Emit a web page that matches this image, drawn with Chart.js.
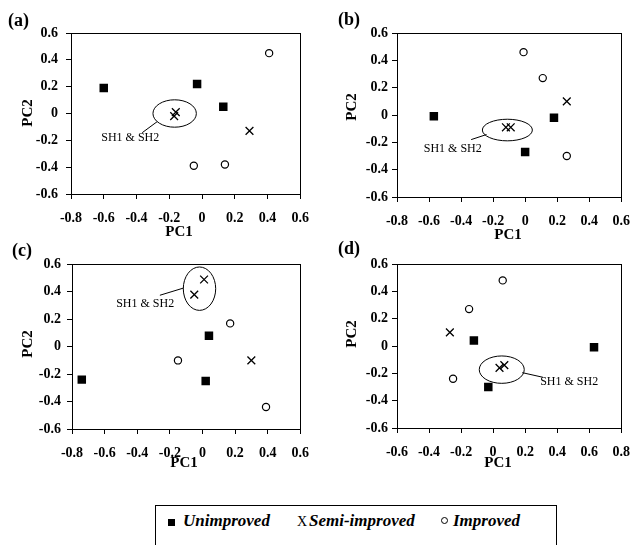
<!DOCTYPE html>
<html>
<head>
<meta charset="utf-8">
<script src="https://cdn.jsdelivr.net/npm/chart.js@4.4.1/dist/chart.umd.min.js"></script>
<style>
  html, body { margin: 0; padding: 0; background: #fff; width: 641px; height: 545px; overflow: hidden; }
  #page { position: relative; width: 641px; height: 545px; font-family: 'Liberation Serif', 'Times New Roman', serif; color: #000; }
  canvas { position: absolute; }
  .tag { position: absolute; font-weight: bold; font-size: 18px; line-height: 18px; }
  #legendBox { position: absolute; left: 155px; top: 505px; width: 400px; height: 50px; border: 1px solid #000; }
  #legendLine { position: absolute; left: 168px; top: 511px; font-size: 17px; line-height: 20px; font-weight: bold; font-style: italic; white-space: nowrap; }
  #legendLine span { display: inline-block; }
  .sq { width: 7px; height: 7px; background: #000; margin-right: 8px; }
  .xm { width: 12px; font-style: normal; font-weight: normal; font-size: 14px; }
  .ci { width: 5px; height: 5px; border: 1px solid #000; border-radius: 50%; margin-right: 5px; vertical-align: 2px; }
</style>
</head>
<body>
<div id="page">
  <canvas id="pa" width="320" height="250" style="left:0;top:0"></canvas>
  <canvas id="pb" width="321" height="250" style="left:320px;top:0"></canvas>
  <canvas id="pc" width="320" height="250" style="left:0;top:250px"></canvas>
  <canvas id="pd" width="321" height="250" style="left:320px;top:250px"></canvas>
  <div class="tag" style="left:8px;top:11px">(a)</div>
  <div class="tag" style="left:338px;top:10px">(b)</div>
  <div class="tag" style="left:12px;top:241px">(c)</div>
  <div class="tag" style="left:338px;top:239px">(d)</div>
  <div id="legendBox"></div>
  <div id="legendLine"><span class="sq"></span><span style="width:114px">Unimproved</span><span class="xm">X</span><span style="width:132px">Semi-improved</span><span class="ci"></span><span>Improved</span></div>
</div>
<script>
const fontFam = "'Liberation Serif', 'Times New Roman', serif";

const seriesNames = ['Unimproved', 'Semi-improved', 'Improved'];
const xRangeABC = [-0.8, 0.6];
const xRangeD = [-0.6, 0.8];
const yRange = [-0.6, 0.6];
const tickStep = 0.2;
const noteText = 'SH1 & SH2';

// (a)
const unimprovedA = [{ x: -0.60, y: 0.19 }, { x: -0.03, y: 0.22 }, { x: 0.13, y: 0.05 }];
const semiA = [{ x: -0.16, y: 0.01 }, { x: -0.17, y: -0.02 }, { x: 0.29, y: -0.13 }];
const improvedA = [{ x: 0.41, y: 0.45 }, { x: -0.05, y: -0.39 }, { x: 0.14, y: -0.38 }];

// (b)
const unimprovedB = [{ x: -0.57, y: -0.01 }, { x: 0.18, y: -0.02 }, { x: 0.00, y: -0.27 }];
const semiB = [{ x: -0.12, y: -0.09 }, { x: -0.09, y: -0.09 }, { x: 0.26, y: 0.10 }];
const improvedB = [{ x: -0.01, y: 0.46 }, { x: 0.11, y: 0.27 }, { x: 0.26, y: -0.30 }];

// (c)
const unimprovedC = [{ x: -0.74, y: -0.24 }, { x: 0.04, y: 0.08 }, { x: 0.02, y: -0.25 }];
const semiC = [{ x: -0.05, y: 0.38 }, { x: 0.01, y: 0.49 }, { x: 0.30, y: -0.10 }];
const improvedC = [{ x: -0.15, y: -0.10 }, { x: 0.17, y: 0.17 }, { x: 0.39, y: -0.44 }];

// (d)
const unimprovedD = [{ x: -0.12, y: 0.04 }, { x: -0.03, y: -0.30 }, { x: 0.63, y: -0.01 }];
const semiD = [{ x: -0.27, y: 0.10 }, { x: 0.04, y: -0.16 }, { x: 0.07, y: -0.14 }];
const improvedD = [{ x: 0.06, y: 0.48 }, { x: -0.15, y: 0.27 }, { x: -0.25, y: -0.24 }];

function fmt(v) {
  const r = Math.round(v * 10) / 10;
  return r === 0 ? '0' : r.toFixed(1);
}

// box round the plot area
const frame = {
  id: 'frame',
  beforeDatasetsDraw(chart) {
    const a = chart.chartArea, ctx = chart.ctx;
    ctx.save();
    ctx.strokeStyle = '#000';
    ctx.lineWidth = 1;
    ctx.strokeRect(Math.round(a.left) + 0.5, Math.round(a.top) + 0.5, Math.round(a.right - a.left), Math.round(a.bottom - a.top));
    ctx.restore();
  }
};

const titles = {
  id: 'titles',
  afterDraw(chart, args, o) {
    const ctx = chart.ctx;
    ctx.save();
    ctx.fillStyle = '#000';
    ctx.font = 'bold 15px ' + fontFam;
    ctx.textAlign = 'center';
    ctx.textBaseline = 'middle';
    ctx.fillText(o.x.text, o.x.cx, o.x.cy);
    ctx.translate(o.y.cx, o.y.cy);
    ctx.rotate(-Math.PI / 2);
    ctx.fillText(o.y.text, 0, 0);
    ctx.restore();
  }
};

// ellipse + leader line + label for SH1 & SH2
const note = {
  id: 'note',
  afterDatasetsDraw(chart, args, o) {
    const sx = chart.scales.x, sy = chart.scales.y, ctx = chart.ctx;
    ctx.save();
    ctx.strokeStyle = '#000';
    ctx.lineWidth = 1;
    ctx.beginPath();
    ctx.ellipse(sx.getPixelForValue(o.cx), sy.getPixelForValue(o.cy), o.rx, o.ry, 0, 0, Math.PI * 2);
    ctx.stroke();
    ctx.beginPath();
    ctx.moveTo(sx.getPixelForValue(o.from[0]), sy.getPixelForValue(o.from[1]));
    ctx.lineTo(sx.getPixelForValue(o.to[0]), sy.getPixelForValue(o.to[1]));
    ctx.stroke();
    ctx.font = '12px ' + fontFam;
    ctx.fillStyle = '#000';
    ctx.textAlign = 'center';
    ctx.textBaseline = 'middle';
    ctx.fillText(noteText, sx.getPixelForValue(o.at[0]), sy.getPixelForValue(o.at[1]));
    ctx.restore();
  }
};

function panel(id, sets, xRange, area, yPad, titlePos, noteOpts) {
  const cv = document.getElementById(id);
  const W = cv.width, H = cv.height;
  const tickFont = { family: fontFam, weight: 'bold', size: 14 };
  return new Chart(cv, {
    type: 'scatter',
    data: {
      datasets: [
        { label: seriesNames[0], data: sets[0], pointStyle: 'rect', pointRadius: 6, backgroundColor: '#000', borderColor: '#000', borderWidth: 0 },
        { label: seriesNames[1], data: sets[1], pointStyle: 'crossRot', pointRadius: 5.5, backgroundColor: '#000', borderColor: '#000', borderWidth: 1.3 },
        { label: seriesNames[2], data: sets[2], pointStyle: 'circle', pointRadius: 3.6, backgroundColor: '#fff', borderColor: '#000', borderWidth: 1.2 }
      ]
    },
    options: {
      responsive: false,
      animation: false,
      events: [],
      layout: { padding: { left: 0, top: area.t, right: W - area.r, bottom: 0 } },
      plugins: {
        legend: { display: false },
        tooltip: { enabled: false },
        titles: titlePos,
        note: noteOpts
      },
      scales: {
        x: {
          type: 'linear', min: xRange[0], max: xRange[1],
          ticks: { stepSize: tickStep, callback: fmt, font: tickFont, color: '#000', padding: 11, maxRotation: 0, autoSkip: false },
          grid: { drawOnChartArea: false, tickLength: 5, color: '#000' },
          border: { color: '#000' },
          afterFit(s) { s.height = H - area.b; }
        },
        y: {
          type: 'linear', min: yRange[0], max: yRange[1],
          ticks: { stepSize: tickStep, callback: fmt, font: tickFont, color: '#000', padding: yPad, autoSkip: false },
          grid: { drawOnChartArea: false, tickLength: 5, color: '#000' },
          border: { color: '#000' },
          afterFit(s) { s.width = area.l; }
        }
      }
    },
    plugins: [frame, titles, note]
  });
}

panel('pa', [unimprovedA, semiA, improvedA], xRangeABC, { l: 71, r: 306, t: 33, b: 194 }, 8,
  { x: { text: 'PC1', cx: 179, cy: 232 }, y: { text: 'PC2', cx: 28, cy: 113 } },
  { cx: -0.167, cy: 0.0, rx: 21.7, ry: 13.7, from: [-0.274, -0.061], to: [-0.365, -0.143], at: [-0.438, -0.179] });

panel('pb', [unimprovedB, semiB, improvedB], xRangeABC, { l: 77, r: 310, t: 33, b: 197 }, 4,
  { x: { text: 'PC1', cx: 188, cy: 235 }, y: { text: 'PC2', cx: 32, cy: 107 } },
  { cx: -0.111, cy: -0.11, rx: 25, ry: 10.8, from: [-0.241, -0.143], to: [-0.337, -0.18], at: [-0.452, -0.244] });

panel('pc', [unimprovedC, semiC, improvedC], xRangeABC, { l: 72, r: 305, t: 14, b: 179 }, 6,
  { x: { text: 'PC1', cx: 184, cy: 213 }, y: { text: 'PC2', cx: 28, cy: 94 } },
  { cx: -0.018, cy: 0.423, rx: 16.2, ry: 21.7, from: [-0.115, 0.428], to: [-0.261, 0.375], at: [-0.351, 0.314] });

panel('pd', [unimprovedD, semiD, improvedD], xRangeD, { l: 77, r: 312, t: 14, b: 178 }, 4,
  { x: { text: 'PC1', cx: 178, cy: 213 }, y: { text: 'PC2', cx: 32, cy: 84 } },
  { cx: 0.054, cy: -0.173, rx: 22.5, ry: 13.7, from: [0.182, -0.195], to: [0.311, -0.229], at: [0.475, -0.261] });
</script>
</body>
</html>
